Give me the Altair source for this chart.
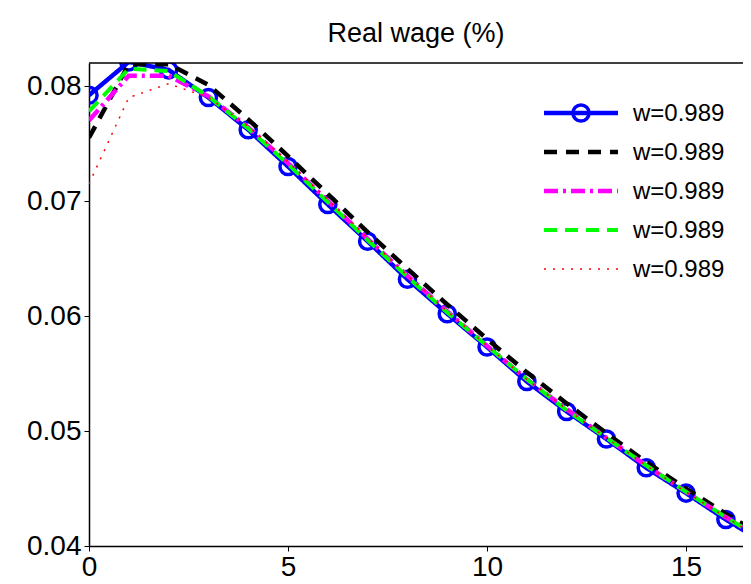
import altair as alt
import pandas as pd

steps = list(range(18))
blue = [0.0792, 0.0821, 0.0814, 0.0790, 0.0762, 0.0730, 0.0697, 0.0665, 0.0632, 0.0602,
        0.0573, 0.0543, 0.0517, 0.0493, 0.0468, 0.0446, 0.0423, 0.0402]
black = [0.0755, 0.0819, 0.0819, 0.0801, 0.0771, 0.0739, 0.0706, 0.0673, 0.0641, 0.0610,
         0.0580, 0.0551, 0.0524, 0.0498, 0.0473, 0.0450, 0.0428, 0.0407]
magenta = [0.0770, 0.0809, 0.0809, 0.0791, 0.0764, 0.0733, 0.0700, 0.0667, 0.0635, 0.0604,
           0.0574, 0.0545, 0.0519, 0.0494, 0.0470, 0.0447, 0.0425, 0.0404]
green = [0.0778, 0.0815, 0.0813, 0.0791, 0.0763, 0.0732, 0.0699, 0.0666, 0.0634, 0.0603,
         0.0574, 0.0545, 0.0518, 0.0494, 0.0470, 0.0447, 0.0425, 0.0404]
red = [0.0715, 0.0790, 0.0802, 0.0790, 0.0765, 0.0734, 0.0701, 0.0668, 0.0635, 0.0604,
       0.0574, 0.0545, 0.0519, 0.0494, 0.0470, 0.0447, 0.0425, 0.0404]
legend_label = "w=0.989"

FONT = "Liberation Sans"
XMAX = 16.43
xs = alt.Scale(domain=[0, XMAX], nice=False, zero=False)
ys = alt.Scale(domain=[0.04, 0.082], nice=False, zero=False)

styles = [
    ("blue", blue, "#0000ff", 4.5, [1, 0]),
    ("black", black, "#000000", 4.5, [13, 9]),
    ("magenta", magenta, "#ff00ff", 4.5, [14, 5, 3, 5]),
    ("green", green, "#00ff00", 4, [13, 8]),
    ("red", red, "#ff0000", 1.5, [2, 7]),
]

xaxis = alt.Axis(values=[0, 5, 10, 15], grid=False, labelFont=FONT, labelFontSize=28,
                 labelColor="black", domainColor="black", domainWidth=1.5,
                 tickColor="black", tickSize=5, labelPadding=2, labelFlush=False,
                 title=None)
yaxis = alt.Axis(values=[0.04, 0.05, 0.06, 0.07, 0.08], format=".2f", grid=False,
                 labelFont=FONT, labelFontSize=28, labelColor="black",
                 domainColor="black", domainWidth=1.5, tickColor="black", tickSize=5,
                 labelPadding=3, labelFlush=False, title=None)

layers = []
for name, vals, col, w, dash in styles:
    df = pd.DataFrame({"x": steps, "y": vals})
    base = alt.Chart(df).encode(
        x=alt.X("x:Q", scale=xs, axis=xaxis),
        y=alt.Y("y:Q", scale=ys, axis=yaxis),
    )
    layers.append(base.mark_line(color=col, strokeWidth=w, strokeDash=dash, clip=True))
    if name == "blue":
        layers.append(base.mark_point(color=col, size=260, strokeWidth=3.5, filled=False,
                                      clip=True, opacity=1))

# top frame line
layers.append(alt.Chart(pd.DataFrame({"a": [0]})).mark_rule(color="black", strokeWidth=1.5)
              .encode(x=alt.value(0), x2=alt.value(654), y=alt.value(0)))

# manual legend
for i, (name, vals, col, w, dash) in enumerate(styles):
    yy = 50 + 39 * i
    leg = alt.Chart(pd.DataFrame({"a": [0]}))
    layers.append(leg.mark_rule(color=col, strokeWidth=w, strokeDash=dash)
                  .encode(x=alt.value(455), x2=alt.value(529), y=alt.value(yy)))
    if name == "blue":
        layers.append(leg.mark_point(color=col, size=260, strokeWidth=3.5, filled=False, opacity=1)
                      .encode(x=alt.value(492), y=alt.value(yy)))
    layers.append(leg.mark_text(text=legend_label, font=FONT, fontSize=24, align="left",
                                baseline="middle", color="black")
                  .encode(x=alt.value(544), y=alt.value(yy + 1)))

chart = alt.layer(*layers).properties(
    width=654, height=483,
    title=alt.Title("Real wage (%)", font=FONT, fontSize=27, fontWeight="normal",
                    color="black", offset=14),
    autosize=alt.AutoSizeParams(type="none"),
    padding={"left": 81, "top": 55, "right": 0, "bottom": 30},
).configure_view(stroke=None)

chart.save("out.html", embed_options={"renderer": "svg", "actions": False})
